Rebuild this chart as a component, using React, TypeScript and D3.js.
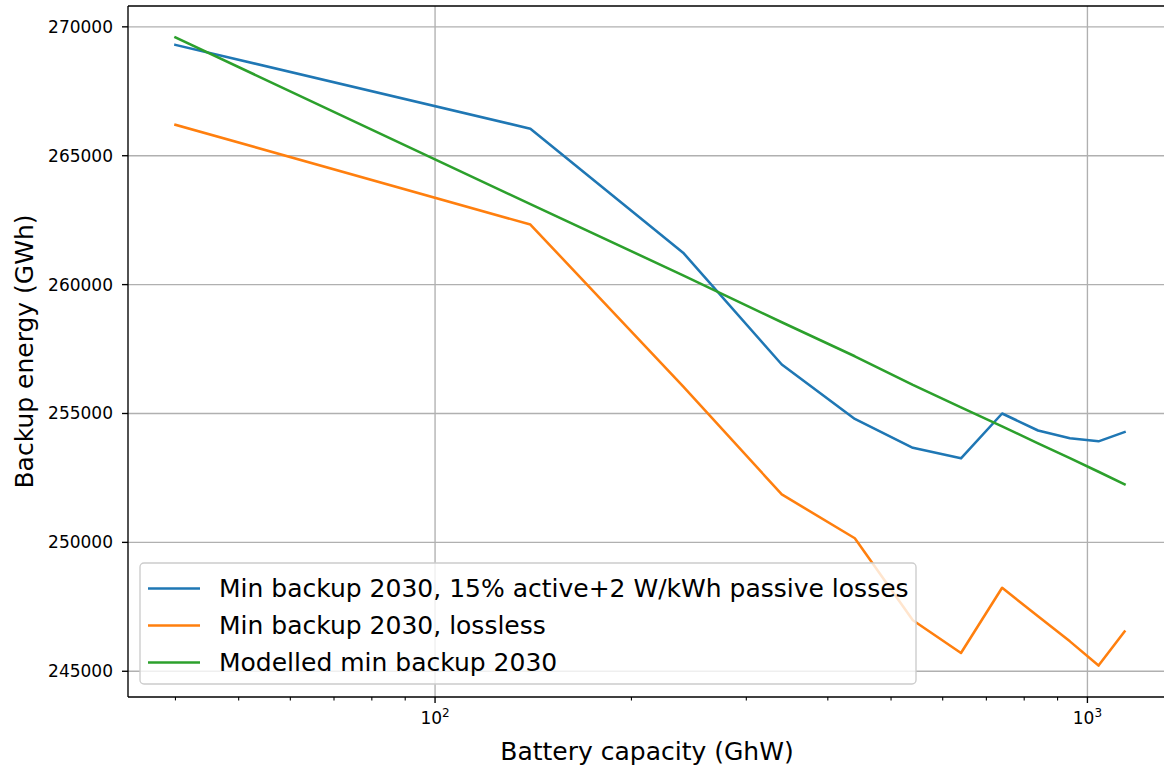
import React from "react";
import * as d3 from "d3";

// Battery capacity (GW) at which the minimum backup energy was evaluated
const capacity = [40, 140, 240, 340, 440, 540, 640, 740, 840, 940, 1040, 1140];

// Minimum backup energy (GWh), 2030, with 15% active + 2 W/kWh passive losses
const withLosses = [269300, 266050, 261240, 256900, 254790, 253670, 253260, 255000, 254340, 254040, 253920, 254280];

// Minimum backup energy (GWh), 2030, lossless storage
const lossless = [266200, 262330, 256050, 251860, 250160, 246980, 245710, 248240, 247130, 246160, 245220, 246540];

// Modelled minimum backup energy (GWh), 2030
const modelled = [269590, 263120, 260360, 258540, 257220, 256110, 255240, 254500, 253840, 253270, 252740, 252250];

const yTicks = [245000, 250000, 255000, 260000, 265000, 270000];
const xMajor = [100, 1000];
const xMajorExp = ["2", "3"];

const seriesNames = [
  "Min backup 2030, 15% active+2 W/kWh passive losses",
  "Min backup 2030, lossless",
  "Modelled min backup 2030",
];
const seriesColors = ["#1f77b4", "#ff7f0e", "#2ca02c"];

const W = 1164;
const H = 769;
const left = 128;
const right = 1172;
const top = 6;
const bottom = 697;
const FONT = "'DejaVu Sans', sans-serif";

export default function App() {
  const series = [withLosses, lossless, modelled];

  // log-x domain with 5% padding in log space
  const lx = d3.extent(capacity.map((v) => Math.log10(v))) as [number, number];
  const px = (lx[1] - lx[0]) * 0.05;
  const x = d3
    .scaleLog()
    .domain([Math.pow(10, lx[0] - px), Math.pow(10, lx[1] + px)])
    .range([left, right]);

  const all = series.flat();
  const ymin = d3.min(all) as number;
  const ymax = d3.max(all) as number;
  const py = (ymax - ymin) * 0.05;
  const y = d3.scaleLinear().domain([ymin - py, ymax + py]).range([bottom, top]);

  const minorTicks: number[] = [];
  for (const decade of [10, 100, 1000]) {
    for (let k = 2; k <= 9; k++) {
      const v = decade * k;
      if (v >= x.domain()[0] && v <= x.domain()[1]) minorTicks.push(v);
    }
  }

  const line = d3
    .line<number>()
    .x((_, i) => x(capacity[i]))
    .y((d) => y(d));

  const legX = 140;
  const legY = 563;
  const legW = 776;
  const legH = 121;
  const rowH = 37;

  return (
    <svg
      width={W}
      height={H}
      style={{ position: "absolute", left: 0, top: 0, display: "block", overflow: "hidden", background: "#fff" }}
      fontFamily={FONT}
    >
      <defs>
        <clipPath id="plotArea">
          <rect x={left} y={top} width={right - left} height={bottom - top} />
        </clipPath>
      </defs>
      <rect x={0} y={0} width={W} height={H} fill="#fff" />

      {/* grid */}
      <g stroke="#b0b0b0" strokeWidth={1.36}>
        {yTicks.map((t) => (
          <line key={"gy" + t} x1={left} x2={right} y1={y(t)} y2={y(t)} />
        ))}
        {xMajor.map((t) => (
          <line key={"gx" + t} x1={x(t)} x2={x(t)} y1={top} y2={bottom} />
        ))}
      </g>

      {/* series */}
      <g clipPath="url(#plotArea)" fill="none" strokeWidth={2.55} strokeLinejoin="round" strokeLinecap="square">
        {series.map((s, i) => (
          <path key={i} d={line(s) as string} stroke={seriesColors[i]} />
        ))}
      </g>

      {/* spines */}
      <g stroke="#000" strokeWidth={1.36} fill="none">
        <line x1={left} x2={left} y1={top} y2={bottom} />
        <line x1={left} x2={right} y1={bottom} y2={bottom} />
        <line x1={left} x2={right} y1={top} y2={top} />
        <line x1={right} x2={right} y1={top} y2={bottom} />
      </g>

      {/* y ticks */}
      <g fontSize={17} fill="#000">
        {yTicks.map((t) => (
          <g key={"ty" + t}>
            <line x1={left - 6} x2={left} y1={y(t)} y2={y(t)} stroke="#000" strokeWidth={1.36} />
            <text x={left - 15} y={y(t)} textAnchor="end" dominantBaseline="central">
              {t}
            </text>
          </g>
        ))}
      </g>

      {/* x ticks */}
      <g fill="#000">
        {xMajor.map((t, i) => (
          <g key={"tx" + t}>
            <line x1={x(t)} x2={x(t)} y1={bottom} y2={bottom + 6} stroke="#000" strokeWidth={1.36} />
            <text x={x(t)} y={724} textAnchor="middle" fontSize={17}>
              10
              <tspan fontSize={12} dy={-7}>
                {xMajorExp[i]}
              </tspan>
            </text>
          </g>
        ))}
        {minorTicks.map((t) => (
          <line key={"mx" + t} x1={x(t)} x2={x(t)} y1={bottom} y2={bottom + 3.4} stroke="#000" strokeWidth={1.1} />
        ))}
      </g>

      {/* axis labels */}
      <text x={(left + right) / 2 - 3} y={760} textAnchor="middle" fontSize={25} fill="#000">
        Battery capacity (GhW)
      </text>
      <text
        transform={`translate(24, ${(top + bottom) / 2}) rotate(-90)`}
        textAnchor="middle"
        dominantBaseline="central"
        fontSize={25}
        fill="#000"
      >
        Backup energy (GWh)
      </text>

      {/* legend */}
      <g>
        <rect
          x={legX}
          y={legY}
          width={legW}
          height={legH}
          rx={4}
          fill="#fff"
          fillOpacity={0.8}
          stroke="#cccccc"
          strokeWidth={1.36}
        />
        {seriesNames.map((name, i) => {
          const cy = legY + 25.5 + i * rowH;
          return (
            <g key={name}>
              <line x1={legX + 8} x2={legX + 60} y1={cy} y2={cy} stroke={seriesColors[i]} strokeWidth={2.55} />
              <text x={legX + 79} y={cy} dominantBaseline="central" fontSize={25} fill="#000">
                {name}
              </text>
            </g>
          );
        })}
      </g>
    </svg>
  );
}
